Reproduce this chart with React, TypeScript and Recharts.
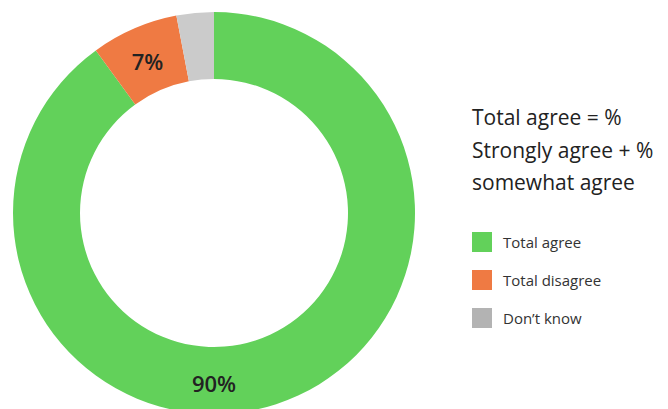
import React from 'react';
import { PieChart, Pie, Cell, Legend } from 'recharts';

const categories = ['Total agree', 'Total disagree', "Don\u2019t know"];
const values = [90, 7, 3];
const colors = ['#62d15a', '#ef7a43', '#cbcbcb'];
const legendColors = ['#62d15a', '#ef7a43', '#b3b3b3'];
const noteLines = ['Total agree = %', 'Strongly agree + %', 'somewhat agree'];

const data = categories.map((name, i) => ({ name, value: values[i] }));

const FONT = '"Open Sans", "Noto Sans", sans-serif';
const RADIAN = Math.PI / 180;

const renderLabel = (props: any) => {
  const { cx, cy, innerRadius, outerRadius, midAngle, value, index } = props;
  if (value < 5) return null;
  // the big slice's label sits at the bottom of the ring
  const angle = index === 0 ? -90 : midAngle;
  const r = (innerRadius + outerRadius) / 2;
  const x = cx + r * Math.cos(-angle * RADIAN);
  const y = cy + r * Math.sin(-angle * RADIAN);
  return (
    <text x={x} y={y + 2} fill="#222" textAnchor="middle" dominantBaseline="central"
      fontFamily={FONT} fontSize={22} fontWeight={600}>
      {`${value}%`}
    </text>
  );
};

const LegendBox = () => (
  <div style={{ fontFamily: FONT, color: '#222' }}>
    {noteLines.map(l => (
      <div key={l} style={{ fontSize: 21, lineHeight: '32.5px', whiteSpace: 'nowrap' }}>{l}</div>
    ))}
    <div style={{ height: 24 }} />
    {categories.map((c, i) => (
      <div key={c} style={{ display: 'flex', alignItems: 'center', height: 38 }}>
        <span style={{ width: 20, height: 20, background: legendColors[i], display: 'inline-block', marginRight: 11 }} />
        <span style={{ fontSize: 15, color: '#333' }}>{c}</span>
      </div>
    ))}
  </div>
);

export default function App() {
  return (
    <div style={{ position: 'fixed', left: 0, top: 0, width: 668, height: 409, background: '#fff', overflow: 'hidden' }}>
      <PieChart width={668} height={409} margin={{ top: 0, right: 0, bottom: 0, left: 0 }}>
        <Pie
          data={data}
          dataKey="value"
          nameKey="name"
          cx={214}
          cy={213}
          innerRadius={134}
          outerRadius={201}
          startAngle={90}
          endAngle={-270}
          stroke="none"
          label={renderLabel}
          labelLine={false}
          isAnimationActive={false}
        >
          {data.map((d, i) => <Cell key={d.name} fill={colors[i]} />)}
        </Pie>
        <Legend content={<LegendBox />} wrapperStyle={{ left: 472, top: 101, width: 196 }} />
      </PieChart>
    </div>
  );
}
